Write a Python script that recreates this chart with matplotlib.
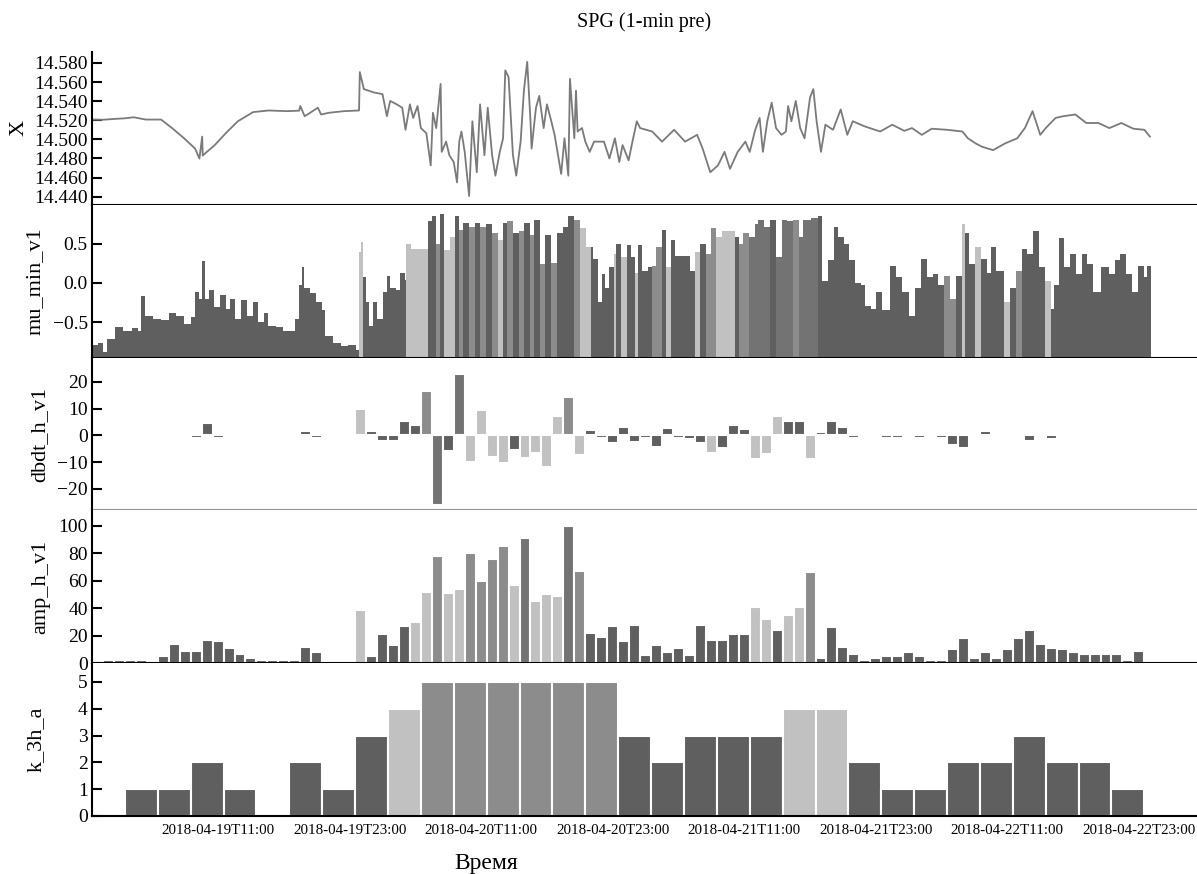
import numpy as np
import matplotlib
matplotlib.use('Agg')
import matplotlib.pyplot as plt

plt.rcParams['font.family'] = ['Liberation Serif', 'DejaVu Serif']

# ---------------- data (hours since 2018-04-19T00:00) ----------------
x_hours = [-0.5, 0.5, 1.6, 2.5, 3.3, 4.4, 5.8, 6.8, 7.9, 8.9, 9.3, 9.55, 9.6, 9.8, 10.7, 11.7,
           12.8, 14.2, 15.6, 17.3, 18.4, 18.5, 18.9, 19.4, 20.1, 20.4, 21.1, 22.5, 23.86, 23.93,
           24.3, 25.2, 26.0, 26.4, 26.7, 27.3, 27.8, 28.1, 28.5, 28.8, 29.2, 29.5, 30.0, 30.4,
           30.6, 30.9, 31.3, 31.4, 31.8, 32.1, 32.5, 32.8, 33.0, 33.2, 33.5, 33.9, 34.2, 34.6,
           34.9, 35.3, 35.6, 36.0, 36.3, 36.7, 37.0, 37.2, 37.5, 37.9, 38.2, 38.6, 38.9, 39.2,
           39.5, 39.6, 40.0, 40.3, 40.7, 41.0, 41.4, 41.7, 42.3, 42.6, 42.95, 43.1, 43.5, 43.65,
           43.8, 44.2, 44.5, 44.9, 45.3, 46.2, 46.7, 47.2, 47.6, 47.9, 48.45, 48.8, 49.2, 49.5,
           50.6, 51.5, 52.6, 53.6, 54.7, 55.2, 55.9, 56.6, 57.2, 57.7, 58.4, 59.1, 59.5, 60.0,
           60.4, 60.7, 61.1, 61.5, 61.9, 62.4, 62.8, 63.0, 63.3, 63.7, 64.1, 64.5, 65.0, 65.3,
           65.6, 66.0, 66.4, 67.1, 67.8, 68.4, 68.9, 70.0, 71.4, 72.5, 73.6, 74.3, 75.2, 76.1,
           77.5, 78.9, 79.4, 80.1, 80.7, 81.7, 82.8, 83.9, 84.6, 85.3, 85.6, 86.0, 86.5, 87.4,
           88.1, 89.2, 90.2, 91.3, 92.3, 93.4, 94.5, 95.5, 96.0]
x_values = [14.5207, 14.5205, 14.5214, 14.5220, 14.5231, 14.5207, 14.5207, 14.5118, 14.5011,
            14.4904, 14.4798, 14.5029, 14.4830, 14.4851, 14.4940, 14.5064, 14.5189, 14.5285,
            14.5302, 14.5295, 14.5300, 14.5349, 14.5242, 14.5278, 14.5331, 14.5260, 14.5278,
            14.5295, 14.5302, 14.5704, 14.5526, 14.5491, 14.5473, 14.5242, 14.5402, 14.5366,
            14.5331, 14.5100, 14.5366, 14.5224, 14.5349, 14.5118, 14.5064, 14.4727, 14.5278,
            14.5118, 14.5580, 14.4869, 14.4976, 14.4833, 14.4762, 14.4549, 14.4976, 14.5082,
            14.4869, 14.4407, 14.5189, 14.4656, 14.5366, 14.4833, 14.5331, 14.4833, 14.4620,
            14.4869, 14.5011, 14.5722, 14.5651, 14.4833, 14.4620, 14.4976, 14.5509, 14.5811,
            14.5189, 14.4904, 14.5331, 14.5455, 14.5118, 14.5366, 14.5189, 14.5047, 14.4638,
            14.5011, 14.4620, 14.5633, 14.5011, 14.5509, 14.5082, 14.5118, 14.4976, 14.4869,
            14.4976, 14.4976, 14.4800, 14.5011, 14.4762, 14.4940, 14.4780, 14.4976, 14.5189,
            14.5118, 14.5082, 14.4976, 14.5100, 14.4976, 14.5047, 14.4904, 14.4656, 14.4727,
            14.4869, 14.4691, 14.4869, 14.4976, 14.4869, 14.5100, 14.5224, 14.4869, 14.5189,
            14.5384, 14.5118, 14.5047, 14.5082, 14.5349, 14.5189, 14.5402, 14.5118, 14.5011,
            14.5438, 14.5526, 14.5189, 14.4869, 14.5153, 14.5100, 14.5313, 14.5047, 14.5189,
            14.5135, 14.5082, 14.5153, 14.5089, 14.5118, 14.5047, 14.5111, 14.5100, 14.5082,
            14.5011, 14.4958, 14.4922, 14.4887, 14.4958, 14.5011, 14.5118, 14.5295, 14.5189,
            14.5047, 14.5118, 14.5224, 14.5242, 14.5260, 14.5171, 14.5171, 14.5118, 14.5171,
            14.5111, 14.5100, 14.5029]

# mu_min_v1: segment start hour, value, class (0 dark, 1 darker-mid, 2 mid, 3 light)
mu_hours = [-0.5, 0.02, 0.47, 0.89, 1.59, 2.29, 3.16, 3.69, 3.96, 4.38, 5.08, 5.78, 6.48, 7.18,
            7.87, 8.57, 8.92, 9.27, 9.55, 9.79, 10.14, 10.67, 11.19, 11.71, 12.06, 12.59, 13.11,
            13.63, 14.16, 14.68, 15.20, 15.55, 16.25, 16.95, 17.99, 18.34, 18.62, 18.87, 19.39,
            19.92, 20.44, 20.79, 21.49, 22.18, 22.88, 23.58, 23.86, 24.00, 24.21, 24.45, 24.80,
            25.15, 25.50, 26.02, 26.37, 26.72, 27.25, 27.59, 28.05, 28.12, 28.64, 29.16, 29.86,
            30.14, 30.56, 30.91, 31.26, 31.61, 32.13, 32.65, 33.00, 33.35, 33.88, 34.40, 34.92,
            35.45, 35.97, 36.50, 37.02, 37.37, 37.89, 38.42, 38.94, 39.46, 39.81, 40.33, 40.86,
            41.38, 41.91, 42.43, 42.95, 43.47, 44.00, 44.52, 45.05, 45.21, 45.64, 45.99, 46.34,
            46.70, 47.12, 47.33, 47.75, 48.28, 48.64, 48.99, 49.34, 49.70, 50.23, 50.58, 50.93,
            51.46, 51.82, 52.35, 52.70, 53.40, 54.04, 54.53, 54.99, 55.52, 55.95, 56.41, 56.94,
            57.64, 58.17, 58.52, 58.88, 59.41, 59.94, 60.29, 60.82, 61.35, 61.88, 62.41, 62.94,
            63.47, 64.00, 64.35, 65.06, 65.69, 66.12, 66.65, 67.18, 67.53, 68.06, 68.59, 69.12,
            69.65, 70.00, 70.53, 71.06, 71.59, 72.30, 72.83, 73.36, 74.06, 74.59, 75.12, 75.65,
            76.18, 76.71, 77.24, 77.77, 78.30, 78.83, 79.18, 79.53, 80.06, 80.59, 81.12, 81.48,
            82.01, 82.71, 83.24, 83.77, 84.30, 84.83, 85.36, 85.89, 86.42, 86.95, 87.30, 87.73,
            88.19, 88.72, 89.25, 89.78, 90.30, 90.83, 91.54, 92.25, 92.78, 93.31, 93.84, 94.37,
            94.90, 95.42, 95.78]
mu_values = [-0.79, -0.77, -0.88, -0.72, -0.56, -0.61, -0.57, -0.61, -0.17, -0.42, -0.46, -0.48,
             -0.39, -0.42, -0.53, -0.44, -0.11, -0.20, 0.285, -0.20, -0.09, -0.31, -0.15, -0.33,
             -0.20, -0.46, -0.22, -0.42, -0.24, -0.50, -0.39, -0.55, -0.56, -0.61, -0.46, -0.02,
             0.21, -0.07, -0.13, -0.24, -0.35, -0.68, -0.77, -0.81, -0.79, -0.86, 0.39, 0.53,
             0.07, -0.24, -0.55, -0.24, -0.46, -0.11, 0.09, -0.07, -0.09, 0.13, 0.04, 0.50, 0.44,
             0.44, 0.44, 0.79, 0.855, 0.50, 0.88, 0.42, 0.59, 0.855, 0.68, 0.77, 0.72, 0.77, 0.72,
             0.75, 0.64, 0.55, 0.77, 0.79, 0.64, 0.66, 0.77, 0.61, 0.81, 0.24, 0.61, 0.26, 0.64,
             0.72, 0.855, 0.81, 0.70, 0.46, 0.46, 0.31, -0.24, 0.11, -0.07, 0.20, 0.37, 0.50,
             0.33, 0.48, 0.33, 0.13, 0.48, 0.15, 0.20, 0.22, 0.46, 0.68, 0.20, 0.55, 0.35, 0.35,
             0.15, 0.39, 0.50, 0.37, 0.70, 0.59, 0.66, 0.67, 0.59, 0.50, 0.64, 0.59, 0.75, 0.81,
             0.72, 0.81, 0.33, 0.81, 0.79, 0.81, 0.59, 0.81, 0.83, 0.86, 0.02, 0.29, 0.72, 0.59,
             0.50, 0.29, 0.00, -0.02, -0.29, -0.33, -0.11, -0.35, 0.22, 0.07, -0.11, -0.42, -0.07,
             0.31, 0.07, 0.11, -0.02, 0.09, -0.20, 0.09, 0.75, 0.64, 0.24, 0.46, 0.31, 0.13, 0.46,
             0.15, -0.24, -0.07, 0.15, 0.44, 0.37, 0.66, 0.20, 0.02, -0.33, -0.02, 0.57, 0.20,
             0.37, 0.11, 0.37, 0.24, -0.11, 0.20, 0.11, 0.29, 0.37, 0.11, -0.11, 0.22, 0.07, 0.22]
mu_class = [0] * 46 + [3, 3] + [0] * 11 + [3, 3, 3, 3, 0, 0, 2, 0, 3, 3, 0, 2, 0, 2, 0, 2, 0, 2,
            3, 0, 2, 0, 2, 0, 2, 0, 2, 0, 2, 0, 0, 0, 2, 3, 3] + \
           [0, 0, 0, 0, 0, 0, 3, 0, 3, 0, 0, 3, 0, 0, 0, 2, 2, 0, 3, 0, 0, 0, 0, 3, 0, 2, 2, 3,
            3, 3, 0, 2, 2, 1, 1, 1, 1, 0, 1, 1, 1, 2, 1, 1, 1] + \
           [0] * 22 + [2, 2, 0, 3, 0, 0, 3, 0, 0, 0, 0, 3, 0, 2, 0, 0, 0, 0, 3] + [0] * 14
mu_end = 96.1

hours = list(range(96))
amp_values = [0.5, 2, 2, 2, 2.5, 1, 5, 14, 9, 9, 17, 16, 11, 7, 4, 2, 2, 2.5, 2.5, 12, 8, 1, 1, 1,
              39, 5, 21, 13, 27, 30, 52, 78, 51, 54, 80, 60, 76, 85, 57, 91, 45, 50, 49, 100, 67,
              22, 19, 27, 16, 28, 6, 13, 8, 11, 6, 28, 17, 17, 21, 21, 41, 32, 24, 35, 41, 66,
              4, 26, 12, 7, 2, 4, 5, 5, 8, 5, 2, 2, 10, 18, 4, 8, 4, 10, 18, 24, 14, 11, 10, 8,
              7, 7, 7, 7, 2, 9]
amp_class = [0] * 24 + [3, 0, 0, 0, 0, 3, 3, 2, 3, 3, 2, 2, 2, 2, 3, 1, 3, 3, 3, 1, 2] + \
            [0] * 15 + [3, 3, 0, 3, 3, 2] + [0] * 30

nan = float('nan')
dbdt_values = [nan] * 6 + [-0.5, -0.5, -0.8, -1, 4.5, -1, 1, 1, 1, 0.3, nan, nan, 1, 1.5, -1,
               nan, nan, nan, 10, 1.6, -2, -2, 5.2, 3.8, 16.7, -25.9, -5.9, 22.8, -10.1, 9.3,
               -8, -10.5, -5.6, -8.4, -6.5, -11.7, 7.2, 14.4, -7.4, 2.1, -1, -3, 3, -2.5, -1,
               -4.5, 2.8, -1, -1.5, -3, -6.5, -4.6, 3.7, 2.5, -8.9, -7, 7.4, 5.2, 5.2, -8.9,
               1.2, 5.2, 3, -1, nan, 0.2, -1, -1, 0.2, -1, 0.5, -1, -3.5, -4.6, 1, 1.5, 0.3,
               0.3, 1, -2, 0.5, -1.5, -0.5, -0.5, -0.5, -0.5, 0.5, -0.5, -0.5, 0.5]
dbdt_class = [0] * 6 + [3, 3, 2, 0, 0, 0, 0, 0, 3, 3, 0, 0, 0, 0, 0, 0, 0, 0,
              3, 0, 0, 0, 0, 0, 2, 1, 0, 1, 3, 3, 3, 3, 0, 3, 3, 3, 3, 2, 3,
              0, 0, 0, 0, 0, 0, 0, 0, 0, 0, 0, 3, 0, 0, 0, 3, 3, 3, 0, 0, 3,
              0, 0, 0, 0, 0, 3, 0, 0, 3, 0, 3, 0, 0, 0, 0, 0, 3, 3, 0, 0, 3,
              0, 0, 0, 0, 0, 0, 0, 0, 3]

k_centers = list(range(1, 95, 3))
k_values = [0, 1, 1, 2, 1, 0, 2, 1, 3, 4, 5, 5, 5, 5, 5, 5, 3, 2, 3, 3, 3, 4, 4, 2, 1, 1, 2, 2,
            3, 2, 2, 1]

xtick_hours = [11, 23, 35, 47, 59, 71, 83, 95]
xtick_labels = ['2018-04-19T11:00', '2018-04-19T23:00', '2018-04-20T11:00', '2018-04-20T23:00',
                '2018-04-21T11:00', '2018-04-21T23:00', '2018-04-22T11:00', '2018-04-22T23:00']

palette = {0: '#5f5f5f', 1: '#737373', 2: '#8c8c8c', 3: '#c1c1c1'}

# ---------------- figure ----------------
W, H = 1197, 874
fig = plt.figure(figsize=(W / 100, H / 100), dpi=100)
left, right = 92 / W, 1.0
top_px, bot_px = 52, 816
ph = (bot_px - top_px) / 5
axes = []
for i in range(5):
    y0 = 1 - (top_px + (i + 1) * ph) / H
    ax = fig.add_axes([left, y0, right - left, ph / H])
    axes.append(ax)

XLIM = (-0.5, 100.3)
for ax in axes:
    ax.set_xlim(*XLIM)
    for s in ['top', 'right']:
        ax.spines[s].set_visible(False)
    for s in ['left', 'bottom']:
        ax.spines[s].set_linewidth(1.5)
        ax.spines[s].set_color('black')
    ax.tick_params(axis='y', direction='in', length=7, width=1.5, labelsize=14, pad=3)
    ax.tick_params(axis='x', length=0, labelbottom=False)
    ax.set_xticks([])

# Panel 1: X
ax = axes[0]
ax.plot(x_hours, x_values, color='#7a7a7a', lw=1.3)
ax.set_ylim(14.4315, 14.5914)
yt = [14.44, 14.46, 14.48, 14.50, 14.52, 14.54, 14.56, 14.58]
ax.set_yticks(yt)
ax.set_yticklabels([f'{v:.3f}' for v in yt])
ax.set_ylabel('X', fontsize=16, labelpad=4)
ax.set_title('SPG (1-min pre)', fontsize=14.5, pad=18)

# Panel 2: mu_min_v1
ax = axes[1]
mu_bottom = -0.955
mu_edges = list(mu_hours) + [mu_end]
widths = np.diff(mu_edges)
ax.bar(mu_hours, np.array(mu_values) - mu_bottom, width=widths, bottom=mu_bottom, align='edge',
       color=[palette[c] for c in mu_class], linewidth=0)
ax.set_ylim(mu_bottom, 1.0)
ax.set_yticks([-0.5, 0.0, 0.5])
ax.set_yticklabels(['\u22120.5', '0.0', '0.5'])
ax.set_ylabel('mu_min_v1', fontsize=16, labelpad=6)

# Panel 3: dbdt_h_v1
ax = axes[2]
ax.bar(hours, dbdt_values, width=1.0, color=[palette[c] for c in dbdt_class],
       edgecolor='white', linewidth=1.5)
ax.set_ylim(-28.1, 29.1)
ax.set_yticks([-20, -10, 0, 10, 20])
ax.set_yticklabels(['\u221220', '\u221210', '0', '10', '20'])
ax.set_ylabel('dbdt_h_v1', fontsize=16, labelpad=6)
ax.spines['bottom'].set_color('#909090')

# Panel 4: amp_h_v1
ax = axes[3]
ax.bar(hours, amp_values, width=1.0, color=[palette[c] for c in amp_class],
       edgecolor='white', linewidth=1.5)
ax.set_ylim(0, 111)
ax.set_yticks([0, 20, 40, 60, 80, 100])
ax.set_ylabel('amp_h_v1', fontsize=16, labelpad=6)

# Panel 5: k_3h_a
ax = axes[4]
k_cls = [0 if v < 4 else (3 if v == 4 else 2) for v in k_values]
ax.bar(k_centers, k_values, width=3.0, color=[palette[c] for c in k_cls],
       edgecolor='white', linewidth=1.5)
ax.set_ylim(0, 5.7)
ax.set_yticks([0, 1, 2, 3, 4, 5])
ax.set_ylabel('k_3h_a', fontsize=16, labelpad=23)
ax.set_xticks(xtick_hours)
ax.set_xticklabels(xtick_labels, fontsize=10.8)
ax.tick_params(axis='x', length=0, labelbottom=True, pad=6)
ax.set_xlabel('Время', fontsize=17)
ax.xaxis.set_label_coords((486 - 92) / (W - 92), -0.24)

fig.savefig('out.png', dpi=100, facecolor='white')
